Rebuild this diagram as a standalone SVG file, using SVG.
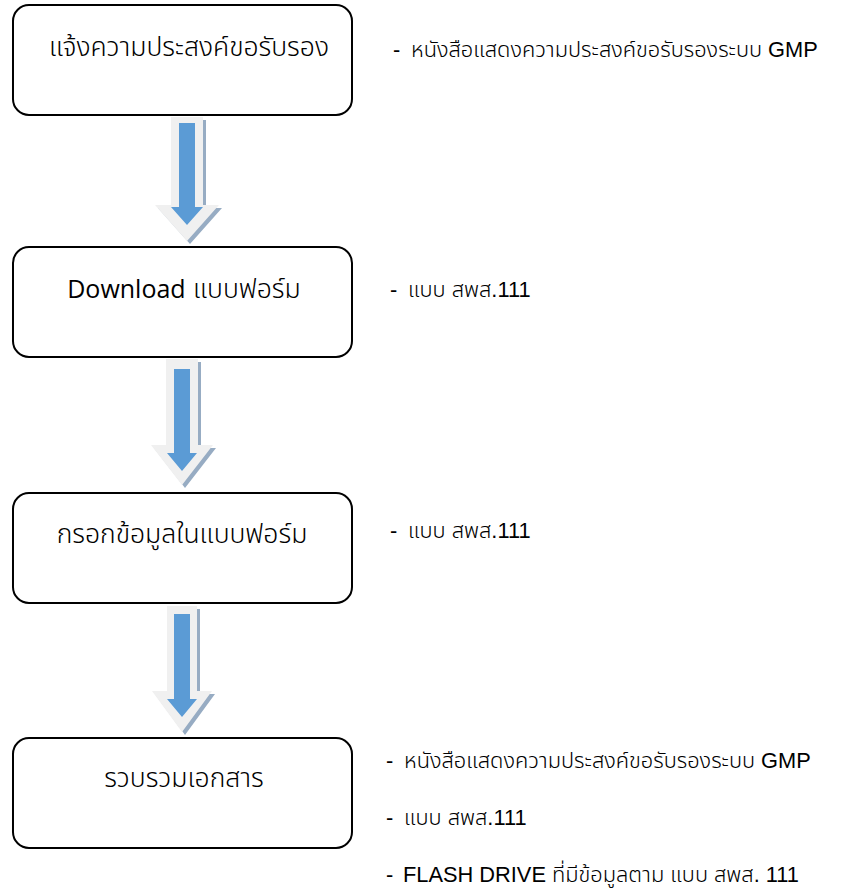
<svg xmlns="http://www.w3.org/2000/svg" width="842" height="890" viewBox="0 0 842 890">
  <style>
    .box { fill: #ffffff; stroke: #000000; stroke-width: 2; }
    .step { font-family: "Liberation Sans", "Noto Sans Thai", "Noto Sans", sans-serif; font-size: 26.5px; font-weight: 300; fill: #000000; text-anchor: middle; }
    .latin { font-family: "Open Sans", "Noto Sans", sans-serif; font-size: 25px; font-weight: 400; }
    .note { font-family: "Liberation Sans", "Noto Sans Thai", "Noto Sans", sans-serif; font-size: 21.8px; font-weight: 300; fill: #000000; }
    .arrow-body { fill: #f0f0f0; }
    .arrow-shadow { fill: #97acc3; }
    .arrow-core { fill: #5b9bd5; }
  </style>

  <rect width="842" height="890" fill="#ffffff"/>

  <!-- block arrows between the steps -->
  <g id="connectors">
    <g id="arrow-1">
      <path class="arrow-shadow" d="M174,120 H206 V208 H222 L190,244 L158,208 H174 Z"/>
      <path class="arrow-body" d="M171,117 H203 V205 H219 L187,241 L155,205 H171 Z"/>
      <path class="arrow-core" d="M179,123 H195 V207 H203 L187,225 L171,207 H179 Z"/>
    </g>
    <g id="arrow-2">
      <path class="arrow-shadow" d="M169,362 H201 V448 H216 L185,488 L154,448 H169 Z"/>
      <path class="arrow-body" d="M166,359 H198 V445 H213 L182,485 L151,445 H166 Z"/>
      <path class="arrow-core" d="M174,369 H190 V453 H197 L182,471 L167,453 H174 Z"/>
    </g>
    <g id="arrow-3">
      <path class="arrow-shadow" d="M170,609 H200 V694 H215 L185,735 L155,694 H170 Z"/>
      <path class="arrow-body" d="M167,606 H197 V691 H212 L182,732 L152,691 H167 Z"/>
      <path class="arrow-core" d="M174,614 H190 V699 H197 L182,717 L167,699 H174 Z"/>
    </g>
  </g>

  <!-- step 1 -->
  <g id="node-1">
    <rect class="box" x="13" y="5" width="339" height="110" rx="16" ry="16"/>
    <text class="step" x="189" y="56">แจ้งความประสงค์ขอรับรอง</text>
  </g>
  <g id="note-1">
    <text class="note" y="57"><tspan x="393">-</tspan><tspan x="411">หนังสือแสดงความประสงค์ขอรับรองระบบ GMP</tspan></text>
  </g>

  <!-- step 2 -->
  <g id="node-2">
    <rect class="box" x="13" y="247" width="339" height="110" rx="16" ry="16"/>
    <text class="step" x="184" y="298"><tspan class="latin">Download</tspan> แบบฟอร์ม</text>
  </g>
  <g id="note-2">
    <text class="note" y="297"><tspan x="390">-</tspan><tspan x="408">แบบ สพส.111</tspan></text>
  </g>

  <!-- step 3 -->
  <g id="node-3">
    <rect class="box" x="13" y="493" width="339" height="110" rx="16" ry="16"/>
    <text class="step" x="182" y="543">กรอกข้อมูลในแบบฟอร์ม</text>
  </g>
  <g id="note-3">
    <text class="note" y="538"><tspan x="390">-</tspan><tspan x="408">แบบ สพส.111</tspan></text>
  </g>

  <!-- step 4 -->
  <g id="node-4">
    <rect class="box" x="13" y="738" width="339" height="110" rx="16" ry="16"/>
    <text class="step" x="184" y="787">รวบรวมเอกสาร</text>
  </g>
  <g id="note-4">
    <text class="note" y="768"><tspan x="386">-</tspan><tspan x="404">หนังสือแสดงความประสงค์ขอรับรองระบบ GMP</tspan></text>
    <text class="note" y="825"><tspan x="386">-</tspan><tspan x="404">แบบ สพส.111</tspan></text>
    <text class="note" y="882"><tspan x="386">-</tspan><tspan x="403">FLASH DRIVE ที่มีข้อมูลตาม แบบ สพส. 111</tspan></text>
  </g>
</svg>
